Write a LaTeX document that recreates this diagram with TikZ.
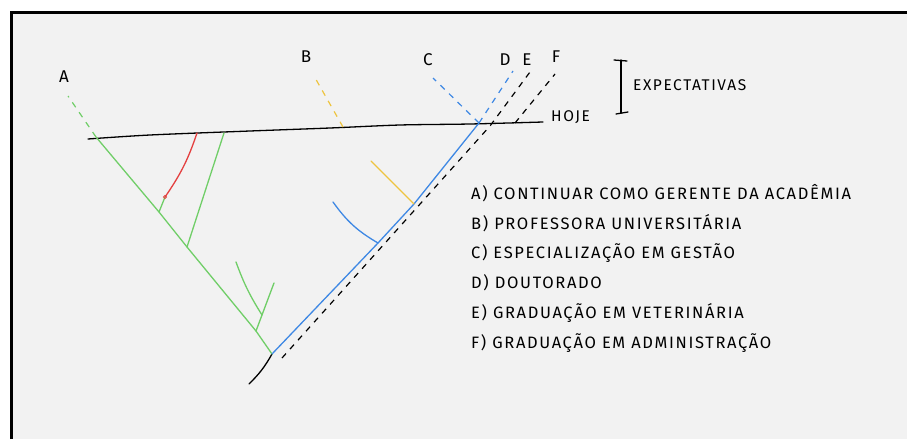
\documentclass[tikz,border=0pt]{standalone}
\usepackage{fontspec}
\newfontfamily\handfont{Fira Sans}[LetterSpace=10]
\usetikzlibrary{calc}
\usepackage{xcolor}
\definecolor{paper}{RGB}{242,242,242}
\definecolor{leafgreen}{RGB}{112,206,104}
\definecolor{skyblue}{RGB}{62,136,228}
\definecolor{mustard}{RGB}{238,196,64}
\definecolor{warmred}{RGB}{228,64,64}

\begin{document}
\begin{tikzpicture}[
        x=1pt, y=-1pt,
        % Define styles for the strokes and texts
        branch/.style={line width=1.3pt, line cap=round},
        future/.style={line width=1.2pt, dash pattern=on 6pt off 6pt},
        letter/.style={font=\handfont\fontsize{17}{17}\selectfont, inner sep=0pt},
        tag/.style={font=\handfont\fontsize{15.5}{15.5}\selectfont, inner sep=0pt, anchor=west},
        note/.style={font=\handfont\fontsize{16.5}{16.5}\selectfont, inner sep=0pt, anchor=west}
    ]

        % --- Sheet ---
        \useasboundingbox (0,0) rectangle (907,439);
        \fill[white] (0,0) rectangle (907,439);
        \fill[paper] (11,12) rectangle (907,439);
        \draw[line width=3pt] (11,439) -- (11,12) -- (907,12);

        % --- Points ---
        \coordinate (root) at (249,384);
        \coordinate (fork) at (272,354);
        \coordinate (g1) at (256,331);
        \coordinate (g1top) at (274,283);
        \coordinate (g1b) at (262,315);
        \coordinate (g1btop) at (236,262);
        \coordinate (g2) at (187,247);
        \coordinate (g2top) at (224,133);
        \coordinate (g3) at (159,212);
        \coordinate (redend) at (165,197);
        \coordinate (redtop) at (197,133);
        \coordinate (anow) at (96,137);
        \coordinate (aend) at (68,96);

        \coordinate (b1) at (378,243);
        \coordinate (b1top) at (333,202);
        \coordinate (b2) at (414,204);
        \coordinate (b2top) at (371,161);
        \coordinate (now) at (479,123);
        \coordinate (cend) at (433,78);
        \coordinate (dend) at (513,71);

        \coordinate (e0) at (282,358);
        \coordinate (enow) at (490,126);
        \coordinate (eend) at (530,72);
        \coordinate (fnow) at (515,123);
        \coordinate (fend) at (555,74);

        \coordinate (bnow) at (343,127);
        \coordinate (bend) at (314,76);

        \coordinate (hleft) at (88,139);
        \coordinate (hright) at (543,122);

        % --- Today line ---
        \draw[branch] plot[smooth] coordinates {(hleft) (150,135) (250,131) (330,128) (400,125) (470,124) (hright)};

        % --- Trunk ---
        \draw[branch] (root) to[bend right=8] (fork);

        % green line (A)
        \draw[branch, leafgreen] (fork) -- (g1) -- (g2) -- (g3) -- (anow);
        \draw[branch, leafgreen] (g1) -- (g1top);
        \draw[branch, leafgreen] (g1b) to[bend left=6] (g1btop);
        \draw[branch, leafgreen] (g2) -- (g2top);
        \draw[branch, leafgreen] (g3) -- (redend);
        \draw[branch, warmred] (redend) to[bend right=8] (redtop);
        \draw[warmred, line width=0.8pt] (redend) circle (1.6);
        \draw[future, leafgreen] (anow) -- (aend);

        % blue line (C, D)
        \draw[branch, skyblue] (fork) -- (b1) -- (b2) -- (now);
        \draw[branch, skyblue] (b1) to[bend left=12] (b1top);
        \draw[branch, mustard] (b2) -- (b2top);
        \draw[future, skyblue] (now) -- (cend);
        \draw[future, skyblue] (now) -- (dend);

        % black dashed lines (E, F)
        \draw[future] (e0) -- (enow) -- (eend);
        \draw[future] (fnow) -- (fend);

        % yellow line (B)
        \draw[future, mustard] (bnow) -- (bend);

        % --- Labels ---
        \node[letter] (laba) at (64,77) {A};
        \node[letter] (labb) at (306,57) {B};
        \node[letter] (labc) at (428,60) {C};
        \node[letter] (labd) at (505,60) {D};
        \node[letter] (labe) at (527,60) {E};
        \node[letter] (labf) at (556,57) {F};
        \node[tag] (hoje) at (551,117) {HOJE};

        % expectations bracket
        \coordinate (brtop) at (621,60);
        \coordinate (brbot) at (621,113);
        \draw[branch] (brtop) -- (brbot);
        \draw[branch] ($(brtop)+(-7,0)$) -- ($(brtop)+(6,1)$);
        \draw[branch] ($(brbot)+(-5,1)$) -- ($(brbot)+(7,-1)$);
        \node[tag] (expect) at (633,85) {EXPECTATIVAS};

        % --- Legend ---
        \node[note] (opta) at (471,193) {A) CONTINUAR COMO GERENTE DA ACADÊMIA};
        \node[note] (optb) at (471,223) {B) PROFESSORA UNIVERSITÁRIA};
        \node[note] (optc) at (471,253) {C) ESPECIALIZAÇÃO EM GESTÃO};
        \node[note] (optd) at (471,283) {D) DOUTORADO};
        \node[note] (opte) at (471,313) {E) GRADUAÇÃO EM VETERINÁRIA};
        \node[note] (optf) at (471,343) {F) GRADUAÇÃO EM ADMINISTRAÇÃO};

    \end{tikzpicture}
\end{document}
